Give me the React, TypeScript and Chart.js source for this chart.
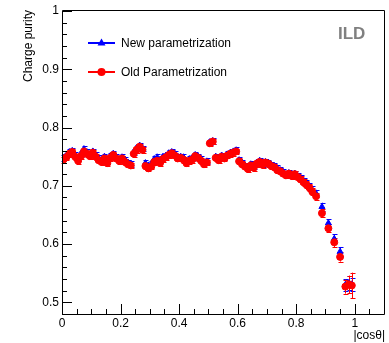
import React, { useEffect, useRef } from "react";
import { Chart, registerables } from "chart.js";
Chart.register(...registerables);

const cosTheta = [
  0.005, 0.015, 0.025, 0.035, 0.045, 0.055, 0.065, 0.075, 0.085, 0.095,
  0.105, 0.115, 0.125, 0.135, 0.145, 0.155, 0.165, 0.175, 0.185, 0.195,
  0.205, 0.215, 0.225, 0.235, 0.245, 0.255, 0.265, 0.275, 0.285, 0.295,
  0.305, 0.315, 0.325, 0.335, 0.345, 0.355, 0.365, 0.375, 0.385, 0.395,
  0.405, 0.415, 0.425, 0.435, 0.445, 0.455, 0.465, 0.475, 0.485, 0.495,
  0.505, 0.515, 0.525, 0.535, 0.545, 0.555, 0.565, 0.575, 0.585, 0.595,
  0.605, 0.615, 0.625, 0.635, 0.645, 0.655, 0.665, 0.675, 0.685, 0.695,
  0.705, 0.715, 0.725, 0.735, 0.745, 0.755, 0.765, 0.775, 0.785, 0.795,
  0.805, 0.815, 0.825, 0.835, 0.845, 0.855,
  0.868, 0.888, 0.91, 0.93, 0.95, 0.968, 0.98, 0.99,
];

const oldPurity = [
  0.745, 0.749, 0.755, 0.758, 0.750, 0.743, 0.751, 0.759, 0.755, 0.751,
  0.757, 0.750, 0.744, 0.741, 0.747, 0.739, 0.748, 0.753, 0.747, 0.743,
  0.747, 0.741, 0.737, 0.735, 0.755, 0.762, 0.767, 0.762, 0.734, 0.730,
  0.733, 0.741, 0.743, 0.739, 0.746, 0.749, 0.753, 0.756, 0.752, 0.747,
  0.748, 0.745, 0.739, 0.743, 0.745, 0.751, 0.748, 0.743, 0.737, 0.740,
  0.773, 0.776, 0.748, 0.744, 0.750, 0.747, 0.752, 0.755, 0.757, 0.759,
  0.742, 0.737, 0.733, 0.729, 0.735, 0.731, 0.738, 0.741, 0.736, 0.740,
  0.738, 0.734, 0.732, 0.727, 0.725, 0.721, 0.718, 0.721, 0.717, 0.720,
  0.715, 0.711, 0.706, 0.702, 0.697, 0.690,
  0.682, 0.653, 0.627, 0.603, 0.578, 0.527, 0.531, 0.529,
];

const oldError = [
  0.005, 0.005, 0.005, 0.005, 0.005, 0.005, 0.005, 0.005, 0.005, 0.005,
  0.005, 0.005, 0.005, 0.005, 0.005, 0.005, 0.005, 0.005, 0.005, 0.005,
  0.005, 0.005, 0.005, 0.005, 0.005, 0.005, 0.005, 0.005, 0.005, 0.005,
  0.005, 0.005, 0.005, 0.005, 0.005, 0.005, 0.005, 0.005, 0.005, 0.005,
  0.005, 0.005, 0.005, 0.005, 0.005, 0.005, 0.005, 0.005, 0.005, 0.005,
  0.005, 0.005, 0.005, 0.005, 0.005, 0.005, 0.005, 0.005, 0.005, 0.005,
  0.005, 0.005, 0.005, 0.005, 0.005, 0.005, 0.005, 0.005, 0.005, 0.005,
  0.005, 0.005, 0.005, 0.005, 0.005, 0.005, 0.005, 0.005, 0.005, 0.005,
  0.005, 0.005, 0.006, 0.006, 0.006, 0.006,
  0.006, 0.007, 0.007, 0.008, 0.008, 0.012, 0.015, 0.022,
];

const newPurity = [
  0.748, 0.752, 0.758, 0.760, 0.753, 0.747, 0.755, 0.763, 0.758, 0.754,
  0.759, 0.753, 0.748, 0.744, 0.750, 0.743, 0.751, 0.755, 0.750, 0.746,
  0.749, 0.745, 0.740, 0.738, 0.758, 0.765, 0.769, 0.764, 0.739, 0.735,
  0.738, 0.746, 0.749, 0.745, 0.750, 0.752, 0.756, 0.758, 0.755, 0.750,
  0.750, 0.749, 0.743, 0.746, 0.748, 0.753, 0.750, 0.746, 0.740, 0.742,
  0.775, 0.777, 0.750, 0.747, 0.752, 0.749, 0.754, 0.757, 0.759, 0.761,
  0.744, 0.740, 0.735, 0.732, 0.737, 0.734, 0.740, 0.743, 0.738, 0.741,
  0.740, 0.736, 0.734, 0.730, 0.727, 0.724, 0.720, 0.722, 0.719, 0.721,
  0.717, 0.713, 0.708, 0.704, 0.699, 0.693,
  0.687, 0.664, 0.636, 0.609, 0.587, 0.530, 0.533, 0.531,
];

const newError = [
  0.005, 0.005, 0.005, 0.005, 0.005, 0.005, 0.005, 0.005, 0.005, 0.005,
  0.005, 0.005, 0.005, 0.005, 0.005, 0.005, 0.005, 0.005, 0.005, 0.005,
  0.005, 0.005, 0.005, 0.005, 0.005, 0.005, 0.005, 0.005, 0.005, 0.005,
  0.005, 0.005, 0.005, 0.005, 0.005, 0.005, 0.005, 0.005, 0.005, 0.005,
  0.005, 0.005, 0.005, 0.005, 0.005, 0.005, 0.005, 0.005, 0.005, 0.005,
  0.005, 0.005, 0.005, 0.005, 0.005, 0.005, 0.005, 0.005, 0.005, 0.005,
  0.005, 0.005, 0.005, 0.005, 0.005, 0.005, 0.005, 0.005, 0.005, 0.005,
  0.005, 0.005, 0.005, 0.005, 0.005, 0.005, 0.005, 0.005, 0.005, 0.005,
  0.005, 0.005, 0.006, 0.006, 0.006, 0.006,
  0.006, 0.007, 0.007, 0.008, 0.008, 0.010, 0.012, 0.011,
];

const xTickValues = [0, 0.2, 0.4, 0.6, 0.8, 1];
const yTickValues = [0.5, 0.6, 0.7, 0.8, 0.9, 1];
const seriesLabels = ["New parametrization", "Old Parametrization"];
const seriesColors = ["#0000ff", "#ff0000"];
const xTitle = "|cosθ|";
const yTitle = "Charge purity";
const tagText = "ILD";

const FONT = "'Liberation Sans', Arial, Helvetica, sans-serif";

function fmt(v: number) {
  return String(parseFloat(v.toFixed(2)));
}

const rootPlugin = {
  id: "rootStyle",
  beforeDatasetsDraw(chart: any) {
    const ctx = chart.ctx;
    const ys = chart.scales.y;
    const errs = [oldError, newError];
    ctx.save();
    ctx.lineWidth = 1;
    [1, 0].forEach((di) => {
      const meta = chart.getDatasetMeta(di);
      const ds = chart.data.datasets[di];
      ctx.strokeStyle = ds.borderColor;
      meta.data.forEach((pt: any, i: number) => {
        const v = ds.data[i].y;
        const e = errs[di][i];
        const yTop = ys.getPixelForValue(v + e);
        const yBot = ys.getPixelForValue(v - e);
        const x = Math.round(pt.x) + 0.5;
        ctx.beginPath();
        ctx.moveTo(x, yTop);
        ctx.lineTo(x, yBot);
        ctx.moveTo(x - 2, Math.round(yTop) + 0.5);
        ctx.lineTo(x + 3, Math.round(yTop) + 0.5);
        ctx.moveTo(x - 2, Math.round(yBot) + 0.5);
        ctx.lineTo(x + 3, Math.round(yBot) + 0.5);
        ctx.stroke();
      });
    });
    ctx.restore();
  },
  afterDraw(chart: any) {
    const ctx = chart.ctx;
    const { left: L, right: R, top: T, bottom: B } = chart.chartArea;
    const xs = chart.scales.x;
    const ys = chart.scales.y;
    ctx.save();
    ctx.strokeStyle = "#000";
    ctx.lineWidth = 1;
    ctx.beginPath();
    ctx.rect(L + 0.5, T - 0.5, R - L, B - T + 1);
    ctx.stroke();
    ctx.beginPath();
    for (let k = 24; k <= 50; k++) {
      const v = k / 50;
      const y = Math.round(ys.getPixelForValue(v)) + 0.5;
      const len = k % 5 === 0 ? 10 : 5;
      ctx.moveTo(L, y);
      ctx.lineTo(L + len, y);
    }
    for (let k = 0; k <= 22; k++) {
      const v = k / 20;
      const x = Math.round(xs.getPixelForValue(v)) + 0.5;
      const len = k % 4 === 0 ? 10 : 5;
      ctx.moveTo(x, B);
      ctx.lineTo(x, B - len);
    }
    ctx.stroke();

    const rows = [43, 72];
    rows.forEach((yy, i) => {
      const c = seriesColors[i];
      ctx.strokeStyle = c;
      ctx.fillStyle = c;
      ctx.lineWidth = 2;
      ctx.beginPath();
      ctx.moveTo(88, yy);
      ctx.lineTo(115, yy);
      ctx.stroke();
      const cx = 101.5;
      ctx.beginPath();
      if (i === 0) {
        ctx.moveTo(cx, yy - 4.5);
        ctx.lineTo(cx + 4, yy + 2.5);
        ctx.lineTo(cx - 4, yy + 2.5);
        ctx.closePath();
      } else {
        ctx.arc(cx, yy, 4, 0, Math.PI * 2);
      }
      ctx.fill();
      ctx.fillStyle = "#000";
      ctx.font = `12px ${FONT}`;
      ctx.textAlign = "left";
      ctx.textBaseline = "alphabetic";
      ctx.fillText(seriesLabels[i], 121, yy + 4);
    });

    ctx.fillStyle = "#808080";
    ctx.font = `bold 17px ${FONT}`;
    ctx.textAlign = "left";
    ctx.textBaseline = "alphabetic";
    ctx.fillText(tagText, 338, 38.5);

    ctx.fillStyle = "#000";
    ctx.font = `12px ${FONT}`;
    ctx.textAlign = "right";
    ctx.fillText(xTitle, 385, 339);

    ctx.save();
    ctx.translate(32, 10);
    ctx.rotate(-Math.PI / 2);
    ctx.textAlign = "right";
    ctx.textBaseline = "alphabetic";
    ctx.fillText(yTitle, 0, 0);
    ctx.restore();

    ctx.restore();
  },
};

export default function App() {
  const ref = useRef<HTMLCanvasElement | null>(null);
  useEffect(() => {
    if (!ref.current) return;
    const chart = new Chart(ref.current, {
      type: "scatter",
      data: {
        datasets: [
          {
            label: seriesLabels[1],
            data: cosTheta.map((x, i) => ({ x, y: oldPurity[i] })),
            borderColor: seriesColors[1],
            backgroundColor: seriesColors[1],
            pointStyle: "circle",
            pointRadius: 3.5,
            pointBorderWidth: 1,
            showLine: false,
            order: 0,
          },
          {
            label: seriesLabels[0],
            data: cosTheta.map((x, i) => ({ x, y: newPurity[i] })),
            borderColor: seriesColors[0],
            backgroundColor: seriesColors[0],
            pointStyle: "triangle",
            pointRadius: 3.5,
            pointBorderWidth: 1,
            showLine: false,
            order: 1,
          },
        ],
      },
      options: {
        animation: false,
        responsive: false,
        events: [],
        layout: { padding: { top: 11, right: 4, left: 0, bottom: 0 } },
        plugins: { legend: { display: false }, tooltip: { enabled: false } },
        scales: {
          x: {
            type: "linear",
            min: 0,
            max: 1.1,
            grid: { display: false, drawTicks: false },
            border: { display: false },
            ticks: {
              color: "#000",
              font: { family: FONT, size: 12 },
              padding: 2,
              maxRotation: 0,
              autoSkip: false,
              callback: (v: any) => fmt(Number(v)),
            },
            afterBuildTicks: (s: any) => {
              s.ticks = xTickValues.map((v) => ({ value: v }));
            },
            afterFit: (s: any) => {
              s.height = 29;
            },
          },
          y: {
            type: "linear",
            min: 0.48,
            max: 1.0,
            grid: { display: false, drawTicks: false },
            border: { display: false },
            ticks: {
              color: "#000",
              font: { family: FONT, size: 12 },
              padding: 3,
              autoSkip: false,
              callback: (v: any) => fmt(Number(v)),
            },
            afterBuildTicks: (s: any) => {
              s.ticks = yTickValues.map((v) => ({ value: v }));
            },
            afterFit: (s: any) => {
              s.width = 62;
            },
          },
        },
      },
      plugins: [rootPlugin],
    } as any);
    return () => chart.destroy();
  }, []);
  return (
    <div style={{ position: "absolute", left: 0, top: 0, width: 389, height: 343, background: "#fff" }}>
      <canvas ref={ref} width={389} height={343} style={{ display: "block" }} />
    </div>
  );
}
